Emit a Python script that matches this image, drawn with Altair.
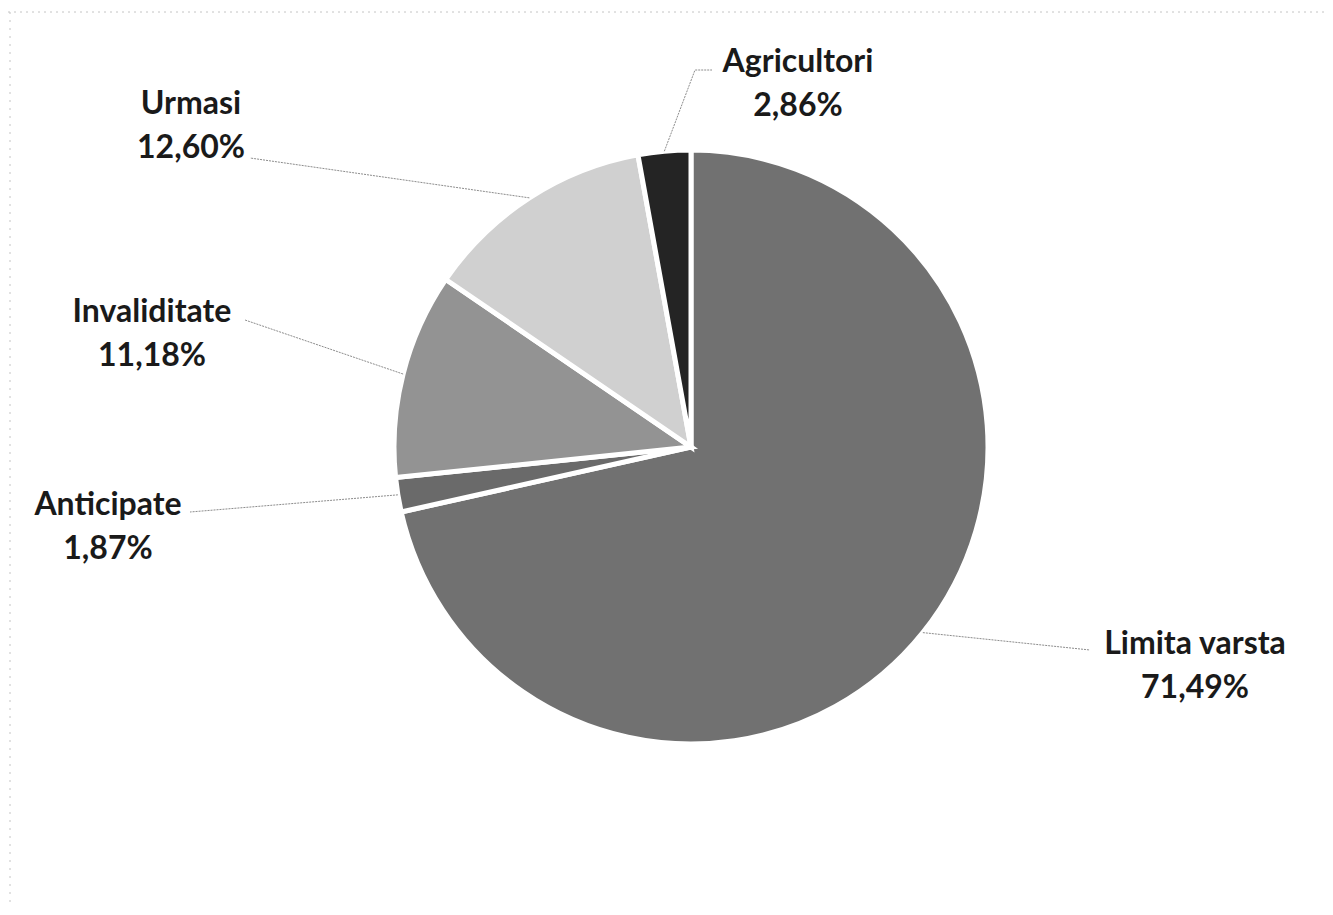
import math
import altair as alt
import pandas as pd

# ---- data ----
categories = ["Limita varsta", "Anticipate", "Invaliditate", "Urmasi", "Agricultori"]
shares = [71.49, 1.87, 11.18, 12.60, 2.86]
colors = ["#717171", "#6a6a6a", "#939393", "#d0d0d0", "#242424"]

# ---- layout (chart pixel coordinates) ----
W, H = 1317, 899
CX, CY, R = 683, 439, 297
# label anchor (x center, baseline of first line)
label_pos = {
    "Limita varsta": (1187, 646),
    "Anticipate": (100, 507),
    "Invaliditate": (144, 314),
    "Urmasi": (183, 106),
    "Agricultori": (790, 64),
}
# leader-line end points near each label (may be a polyline)
leader_end = {
    "Limita varsta": [(1082, 642)],
    "Anticipate": [(182, 504)],
    "Invaliditate": [(237, 312)],
    "Urmasi": [(242, 150)],
    "Agricultori": [(687, 62), (704, 62)],
}

df = pd.DataFrame({"cat": categories, "share": shares, "idx": range(len(categories))})

total = sum(shares)
lab_rows, line_rows = [], []
cum = 0.0
for c, v in zip(categories, shares):
    mid = (cum + v / 2) / total * 2 * math.pi
    cum += v
    sx = CX + R * math.sin(mid)
    sy = CY - R * math.cos(mid)
    pts = [(sx, sy)] + leader_end[c]
    for k, (x, y) in enumerate(pts):
        line_rows.append({"cat": c, "k": k, "x": x, "y": y})
    lx, ly = label_pos[c]
    txt = c + "\n" + f"{v:.2f}".replace(".", ",") + "%"
    lab_rows.append({"cat": c, "x": lx, "y": ly, "txt": txt})

labels = pd.DataFrame(lab_rows)
lines = pd.DataFrame(line_rows)

pie = alt.Chart(df).mark_arc(outerRadius=R, stroke="white", strokeWidth=5).encode(
    theta=alt.Theta("share:Q", stack=True),
    order=alt.Order("idx:Q"),
    color=alt.Color("cat:N", scale=alt.Scale(domain=categories, range=colors), legend=None),
    x=alt.value(CX),
    y=alt.value(CY),
)

leaders = alt.Chart(lines).mark_line(color="#8c8c8c", strokeWidth=1, strokeDash=[2, 1]).encode(
    x=alt.X("x:Q", scale=None),
    y=alt.Y("y:Q", scale=None),
    detail="cat:N",
    order="k:Q",
)

text = alt.Chart(labels).mark_text(
    font="Lato", fontWeight="bold", fontSize=32, align="center",
    baseline="alphabetic", lineBreak="\n", lineHeight=44, color="#1a1a1a",
).encode(
    x=alt.X("x:Q", scale=None),
    y=alt.Y("y:Q", scale=None),
    text="txt:N",
)

border_top = alt.Chart(pd.DataFrame({"a": [0]})).mark_rule(
    color="#c4c4c4", strokeDash=[2, 4], strokeWidth=1
).encode(x=alt.value(0), x2=alt.value(W), y=alt.value(4))
border_left = alt.Chart(pd.DataFrame({"a": [0]})).mark_rule(
    color="#c4c4c4", strokeDash=[2, 6], strokeWidth=1
).encode(x=alt.value(2), y=alt.value(4), y2=alt.value(H))

chart = alt.layer(border_top, border_left, pie, leaders, text).properties(
    width=W, height=H, padding=0, autosize=alt.AutoSizeParams(type="none"),
    background="white",
).configure_view(stroke=None)

chart.save("out.html", embed_options={"renderer": "svg", "actions": False})
